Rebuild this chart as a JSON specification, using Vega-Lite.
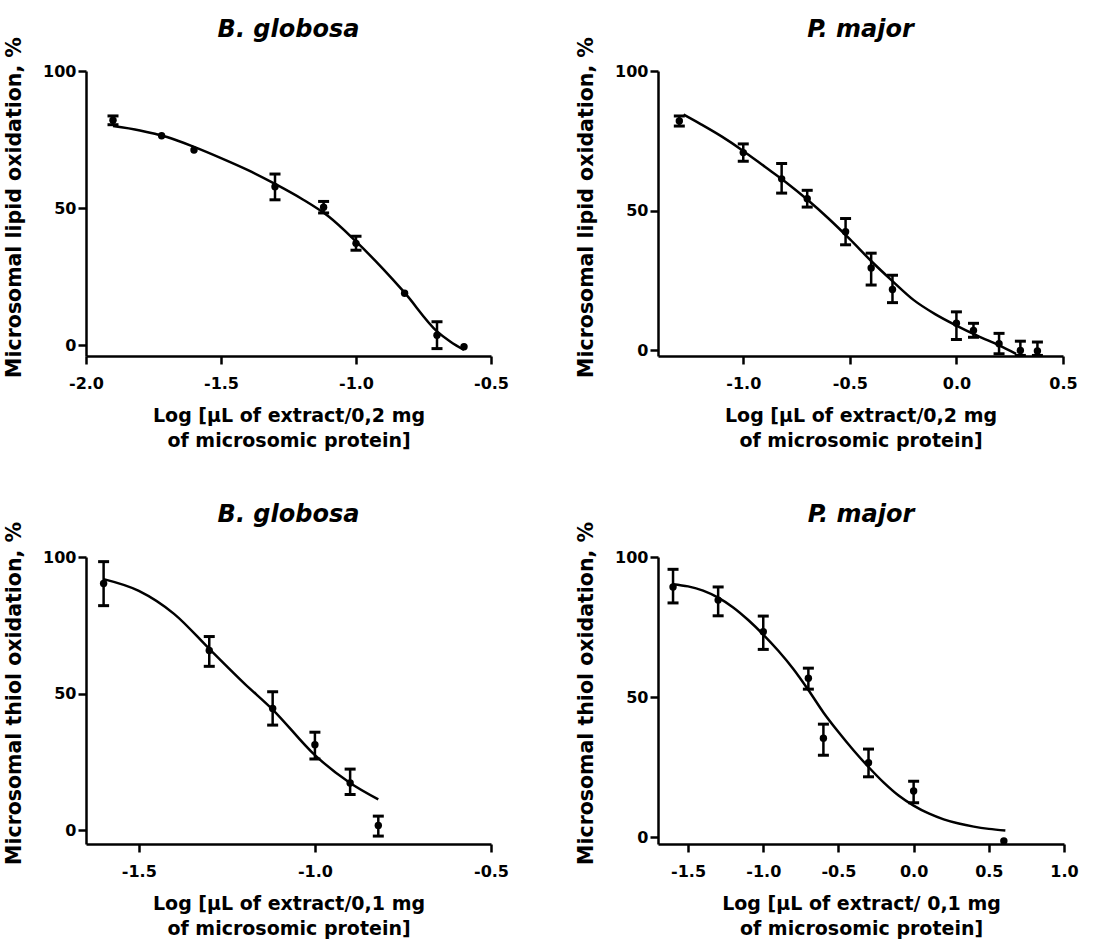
{
  "$schema": "https://vega.github.io/schema/vega-lite/v6.json",
  "background": "white",
  "padding": {"left": 4, "top": 17, "right": 5, "bottom": 2},
  "datasets": {
    "p1pts": [
      {"x": -1.9, "y": 82.0, "lo": 80.4, "hi": 83.6},
      {"x": -1.72, "y": 76.4, "lo": null, "hi": null},
      {"x": -1.6, "y": 71.2, "lo": null, "hi": null},
      {"x": -1.3, "y": 57.8, "lo": 53.0, "hi": 62.4},
      {"x": -1.12, "y": 50.3, "lo": 48.2, "hi": 52.4},
      {"x": -1.0, "y": 37.1, "lo": 34.6, "hi": 39.7},
      {"x": -0.82, "y": 18.9, "lo": null, "hi": null},
      {"x": -0.7, "y": 3.6, "lo": -1.3, "hi": 8.5},
      {"x": -0.6, "y": -0.6, "lo": null, "hi": null}
    ],
    "p1curve": [
      {"x": -1.9, "y": 79.9}, {"x": -1.8, "y": 78.3}, {"x": -1.7, "y": 75.9},
      {"x": -1.6, "y": 72.3}, {"x": -1.5, "y": 68.2}, {"x": -1.4, "y": 63.8},
      {"x": -1.3, "y": 58.8}, {"x": -1.2, "y": 53.3}, {"x": -1.1, "y": 46.8},
      {"x": -1.0, "y": 37.8}, {"x": -0.9, "y": 27.8}, {"x": -0.82, "y": 19.1},
      {"x": -0.7, "y": 5.0}, {"x": -0.65, "y": 1.2}, {"x": -0.6, "y": -1.8}
    ],
    "p2pts": [
      {"x": -1.3, "y": 82.1, "lo": 80.3, "hi": 83.9},
      {"x": -1.0, "y": 70.8, "lo": 67.7, "hi": 73.9},
      {"x": -0.82, "y": 61.4, "lo": 56.3, "hi": 66.9},
      {"x": -0.7, "y": 54.3, "lo": 51.3, "hi": 57.3},
      {"x": -0.52, "y": 42.5, "lo": 37.8, "hi": 47.2},
      {"x": -0.4, "y": 29.5, "lo": 23.4, "hi": 34.8},
      {"x": -0.3, "y": 21.8, "lo": 17.1, "hi": 26.9},
      {"x": 0.0, "y": 9.7, "lo": 3.9, "hi": 13.8},
      {"x": 0.08, "y": 7.1, "lo": 4.7, "hi": 9.7},
      {"x": 0.2, "y": 2.4, "lo": -1.2, "hi": 6.1},
      {"x": 0.3, "y": 0.0, "lo": -1.8, "hi": 3.3},
      {"x": 0.38, "y": -0.2, "lo": -1.8, "hi": 3.0}
    ],
    "p2curve": [
      {"x": -1.28, "y": 84.4}, {"x": -1.2, "y": 81.0}, {"x": -1.1, "y": 76.5},
      {"x": -1.0, "y": 71.4}, {"x": -0.9, "y": 65.8}, {"x": -0.8, "y": 60.2},
      {"x": -0.7, "y": 54.0}, {"x": -0.6, "y": 47.2}, {"x": -0.5, "y": 39.8},
      {"x": -0.4, "y": 32.0}, {"x": -0.3, "y": 24.8}, {"x": -0.2, "y": 18.0},
      {"x": -0.1, "y": 13.0}, {"x": 0.0, "y": 8.9}, {"x": 0.1, "y": 5.2},
      {"x": 0.2, "y": 1.8}, {"x": 0.28, "y": -1.2}
    ],
    "p3pts": [
      {"x": -1.6, "y": 90.3, "lo": 82.2, "hi": 98.3},
      {"x": -1.3, "y": 65.8, "lo": 60.0, "hi": 70.9},
      {"x": -1.12, "y": 44.6, "lo": 38.5, "hi": 50.7},
      {"x": -1.0, "y": 31.3, "lo": 26.1, "hi": 35.9},
      {"x": -0.9, "y": 17.3, "lo": 13.1, "hi": 22.4},
      {"x": -0.82, "y": 1.8, "lo": -2.1, "hi": 5.2}
    ],
    "p3curve": [
      {"x": -1.6, "y": 91.9}, {"x": -1.5, "y": 87.6}, {"x": -1.4, "y": 79.2},
      {"x": -1.3, "y": 66.4}, {"x": -1.2, "y": 53.7}, {"x": -1.12, "y": 44.2},
      {"x": -1.0, "y": 27.5}, {"x": -0.9, "y": 17.3}, {"x": -0.82, "y": 11.3}
    ],
    "p4pts": [
      {"x": -1.6, "y": 89.3, "lo": 83.6, "hi": 95.6},
      {"x": -1.3, "y": 84.6, "lo": 79.0, "hi": 89.3},
      {"x": -1.0, "y": 73.3, "lo": 67.0, "hi": 78.9},
      {"x": -0.7, "y": 56.7, "lo": 52.8, "hi": 60.3},
      {"x": -0.6, "y": 35.3, "lo": 29.2, "hi": 40.3},
      {"x": -0.3, "y": 26.5, "lo": 21.5, "hi": 31.4},
      {"x": 0.0, "y": 16.4, "lo": 12.2, "hi": 19.9},
      {"x": 0.6, "y": -1.4, "lo": null, "hi": null}
    ],
    "p4curve": [
      {"x": -1.6, "y": 90.3}, {"x": -1.5, "y": 89.5}, {"x": -1.4, "y": 88.0},
      {"x": -1.3, "y": 85.5}, {"x": -1.2, "y": 82.0}, {"x": -1.1, "y": 77.5},
      {"x": -1.0, "y": 72.3}, {"x": -0.9, "y": 66.5}, {"x": -0.8, "y": 60.0},
      {"x": -0.7, "y": 52.5}, {"x": -0.6, "y": 44.5}, {"x": -0.5, "y": 37.5},
      {"x": -0.4, "y": 31.0}, {"x": -0.3, "y": 25.0}, {"x": -0.2, "y": 19.5},
      {"x": -0.1, "y": 14.8}, {"x": 0.0, "y": 11.2}, {"x": 0.1, "y": 8.4},
      {"x": 0.2, "y": 6.3}, {"x": 0.3, "y": 4.8}, {"x": 0.4, "y": 3.7},
      {"x": 0.5, "y": 2.9}, {"x": 0.61, "y": 2.3}
    ]
  },
  "columns": 2,
  "bounds": "flush",
  "spacing": {"row": 201, "column": 167},
  "concat": [
    {
      "title": "B. globosa",
      "width": 405, "height": 285,
      "encoding": {
        "x": {"field": "x", "type": "quantitative",
              "scale": {"domain": [-2.0, -0.5], "nice": false, "zero": false},
              "axis": {"values": [-2.0, -1.5, -1.0, -0.5], "title": ["Log [µL of extract/0,2 mg", "of microsomic protein]"],
                       "labelExpr": "replace(format(datum.value, '.1f'), '\u2212', '-')"}}
      },
      "layer": [
        {"data": {"name": "p1curve"}, "mark": {"type": "line", "color": "black", "strokeWidth": 2.5, "interpolate": "monotone", "clip": true},
         "encoding": {"y": {"field": "y", "type": "quantitative", "scale": {"domain": [-4, 100], "nice": false, "zero": false}, "axis": {"values": [0, 50, 100], "title": "Microsomal lipid oxidation, %"}}}},
        {"data": {"name": "p1pts"}, "transform": [{"filter": "isValid(datum.lo)"}],
         "mark": {"type": "rule", "color": "black", "strokeWidth": 2.5, "clip": true},
         "encoding": {"y": {"field": "lo", "type": "quantitative", "scale": {"domain": [-4, 100], "nice": false, "zero": false}, "axis": {"values": [0, 50, 100], "title": "Microsomal lipid oxidation, %"}}, "y2": {"field": "hi"}}},
        {"data": {"name": "p1pts"}, "transform": [{"filter": "isValid(datum.lo)"}],
         "mark": {"type": "tick", "orient": "horizontal", "color": "black", "size": 11, "thickness": 3, "opacity": 1, "clip": true},
         "encoding": {"y": {"field": "lo", "type": "quantitative", "scale": {"domain": [-4, 100], "nice": false, "zero": false}, "axis": {"values": [0, 50, 100], "title": "Microsomal lipid oxidation, %"}}}},
        {"data": {"name": "p1pts"}, "transform": [{"filter": "isValid(datum.lo)"}],
         "mark": {"type": "tick", "orient": "horizontal", "color": "black", "size": 11, "thickness": 3, "opacity": 1, "clip": true},
         "encoding": {"y": {"field": "hi", "type": "quantitative", "scale": {"domain": [-4, 100], "nice": false, "zero": false}, "axis": {"values": [0, 50, 100], "title": "Microsomal lipid oxidation, %"}}}},
        {"data": {"name": "p1pts"}, "mark": {"type": "circle", "color": "black", "size": 55, "opacity": 1},
         "encoding": {"y": {"field": "y", "type": "quantitative", "scale": {"domain": [-4, 100], "nice": false, "zero": false}, "axis": {"values": [0, 50, 100], "title": "Microsomal lipid oxidation, %"}}}}
      ]
    },
    {
      "title": "P. major",
      "width": 405, "height": 285,
      "encoding": {
        "x": {"field": "x", "type": "quantitative",
              "scale": {"domain": [-1.4, 0.5], "nice": false, "zero": false},
              "axis": {"values": [-1.0, -0.5, 0.0, 0.5], "title": ["Log [µL of extract/0,2 mg", "of microsomic protein]"],
                       "labelExpr": "replace(format(datum.value, '.1f'), '\u2212', '-')"}}
      },
      "layer": [
        {"data": {"name": "p2curve"}, "mark": {"type": "line", "color": "black", "strokeWidth": 2.5, "interpolate": "monotone", "clip": true},
         "encoding": {"y": {"field": "y", "type": "quantitative", "scale": {"domain": [-2, 100], "nice": false, "zero": false}, "axis": {"values": [0, 50, 100], "title": "Microsomal lipid oxidation, %"}}}},
        {"data": {"name": "p2pts"}, "transform": [{"filter": "isValid(datum.lo)"}],
         "mark": {"type": "rule", "color": "black", "strokeWidth": 2.5, "clip": true},
         "encoding": {"y": {"field": "lo", "type": "quantitative", "scale": {"domain": [-2, 100], "nice": false, "zero": false}, "axis": {"values": [0, 50, 100], "title": "Microsomal lipid oxidation, %"}}, "y2": {"field": "hi"}}},
        {"data": {"name": "p2pts"}, "transform": [{"filter": "isValid(datum.lo)"}],
         "mark": {"type": "tick", "orient": "horizontal", "color": "black", "size": 11, "thickness": 3, "opacity": 1, "clip": true},
         "encoding": {"y": {"field": "lo", "type": "quantitative", "scale": {"domain": [-2, 100], "nice": false, "zero": false}, "axis": {"values": [0, 50, 100], "title": "Microsomal lipid oxidation, %"}}}},
        {"data": {"name": "p2pts"}, "transform": [{"filter": "isValid(datum.lo)"}],
         "mark": {"type": "tick", "orient": "horizontal", "color": "black", "size": 11, "thickness": 3, "opacity": 1, "clip": true},
         "encoding": {"y": {"field": "hi", "type": "quantitative", "scale": {"domain": [-2, 100], "nice": false, "zero": false}, "axis": {"values": [0, 50, 100], "title": "Microsomal lipid oxidation, %"}}}},
        {"data": {"name": "p2pts"}, "mark": {"type": "circle", "color": "black", "size": 55, "opacity": 1},
         "encoding": {"y": {"field": "y", "type": "quantitative", "scale": {"domain": [-2, 100], "nice": false, "zero": false}, "axis": {"values": [0, 50, 100], "title": "Microsomal lipid oxidation, %"}}}}
      ]
    },
    {
      "title": "B. globosa",
      "width": 405, "height": 287,
      "encoding": {
        "x": {"field": "x", "type": "quantitative",
              "scale": {"domain": [-1.65, -0.5], "nice": false, "zero": false},
              "axis": {"values": [-1.5, -1.0, -0.5], "title": ["Log [µL of extract/0,1 mg", "of microsomic protein]"],
                       "labelExpr": "replace(format(datum.value, '.1f'), '\u2212', '-')"}}
      },
      "layer": [
        {"data": {"name": "p3curve"}, "mark": {"type": "line", "color": "black", "strokeWidth": 2.5, "interpolate": "monotone", "clip": true},
         "encoding": {"y": {"field": "y", "type": "quantitative", "scale": {"domain": [-5, 100], "nice": false, "zero": false}, "axis": {"values": [0, 50, 100], "title": "Microsomal thiol oxidation, %"}}}},
        {"data": {"name": "p3pts"}, "transform": [{"filter": "isValid(datum.lo)"}],
         "mark": {"type": "rule", "color": "black", "strokeWidth": 2.5, "clip": true},
         "encoding": {"y": {"field": "lo", "type": "quantitative", "scale": {"domain": [-5, 100], "nice": false, "zero": false}, "axis": {"values": [0, 50, 100], "title": "Microsomal thiol oxidation, %"}}, "y2": {"field": "hi"}}},
        {"data": {"name": "p3pts"}, "transform": [{"filter": "isValid(datum.lo)"}],
         "mark": {"type": "tick", "orient": "horizontal", "color": "black", "size": 11, "thickness": 3, "opacity": 1, "clip": true},
         "encoding": {"y": {"field": "lo", "type": "quantitative", "scale": {"domain": [-5, 100], "nice": false, "zero": false}, "axis": {"values": [0, 50, 100], "title": "Microsomal thiol oxidation, %"}}}},
        {"data": {"name": "p3pts"}, "transform": [{"filter": "isValid(datum.lo)"}],
         "mark": {"type": "tick", "orient": "horizontal", "color": "black", "size": 11, "thickness": 3, "opacity": 1, "clip": true},
         "encoding": {"y": {"field": "hi", "type": "quantitative", "scale": {"domain": [-5, 100], "nice": false, "zero": false}, "axis": {"values": [0, 50, 100], "title": "Microsomal thiol oxidation, %"}}}},
        {"data": {"name": "p3pts"}, "mark": {"type": "circle", "color": "black", "size": 55, "opacity": 1},
         "encoding": {"y": {"field": "y", "type": "quantitative", "scale": {"domain": [-5, 100], "nice": false, "zero": false}, "axis": {"values": [0, 50, 100], "title": "Microsomal thiol oxidation, %"}}}}
      ]
    },
    {
      "title": "P. major",
      "width": 406, "height": 287,
      "encoding": {
        "x": {"field": "x", "type": "quantitative",
              "scale": {"domain": [-1.7, 1.0], "nice": false, "zero": false},
              "axis": {"values": [-1.5, -1.0, -0.5, 0.0, 0.5, 1.0], "title": ["Log [µL of extract/ 0,1 mg", "of microsomic protein]"],
                       "labelExpr": "replace(format(datum.value, '.1f'), '\u2212', '-')"}}
      },
      "layer": [
        {"data": {"name": "p4curve"}, "mark": {"type": "line", "color": "black", "strokeWidth": 2.5, "interpolate": "monotone", "clip": true},
         "encoding": {"y": {"field": "y", "type": "quantitative", "scale": {"domain": [-2.5, 100], "nice": false, "zero": false}, "axis": {"values": [0, 50, 100], "title": "Microsomal thiol oxidation, %"}}}},
        {"data": {"name": "p4pts"}, "transform": [{"filter": "isValid(datum.lo)"}],
         "mark": {"type": "rule", "color": "black", "strokeWidth": 2.5, "clip": true},
         "encoding": {"y": {"field": "lo", "type": "quantitative", "scale": {"domain": [-2.5, 100], "nice": false, "zero": false}, "axis": {"values": [0, 50, 100], "title": "Microsomal thiol oxidation, %"}}, "y2": {"field": "hi"}}},
        {"data": {"name": "p4pts"}, "transform": [{"filter": "isValid(datum.lo)"}],
         "mark": {"type": "tick", "orient": "horizontal", "color": "black", "size": 11, "thickness": 3, "opacity": 1, "clip": true},
         "encoding": {"y": {"field": "lo", "type": "quantitative", "scale": {"domain": [-2.5, 100], "nice": false, "zero": false}, "axis": {"values": [0, 50, 100], "title": "Microsomal thiol oxidation, %"}}}},
        {"data": {"name": "p4pts"}, "transform": [{"filter": "isValid(datum.lo)"}],
         "mark": {"type": "tick", "orient": "horizontal", "color": "black", "size": 11, "thickness": 3, "opacity": 1, "clip": true},
         "encoding": {"y": {"field": "hi", "type": "quantitative", "scale": {"domain": [-2.5, 100], "nice": false, "zero": false}, "axis": {"values": [0, 50, 100], "title": "Microsomal thiol oxidation, %"}}}},
        {"data": {"name": "p4pts"}, "mark": {"type": "circle", "color": "black", "size": 55, "opacity": 1},
         "encoding": {"y": {"field": "y", "type": "quantitative", "scale": {"domain": [-2.5, 100], "nice": false, "zero": false}, "axis": {"values": [0, 50, 100], "title": "Microsomal thiol oxidation, %"}}}}
      ]
    }
  ],
  "config": {
    "view": {"stroke": null},
    "font": "DejaVu Sans",
    "axis": {
      "grid": false,
      "domainColor": "black", "domainWidth": 2.5,
      "tickColor": "black", "tickWidth": 2.5, "tickSize": 8,
      "labelFont": "DejaVu Sans", "labelFontWeight": "bold", "labelFontSize": 16, "labelColor": "black",
      "labelFlush": false, "labelOverlap": false,
      "titleFont": "DejaVu Sans", "titleFontWeight": "bold", "titleColor": "black"
    },
    "axisX": {"labelPadding": 11, "titleFontSize": 19, "titlePadding": 15, "titleLineHeight": 25},
    "axisY": {"labelPadding": 2, "titleFontSize": 20.5, "titlePadding": 18, "titleY": 136},
    "title": {"font": "DejaVu Sans", "fontSize": 24, "fontWeight": "bold", "fontStyle": "italic", "color": "black", "offset": -5, "anchor": "middle"}
  }
}
